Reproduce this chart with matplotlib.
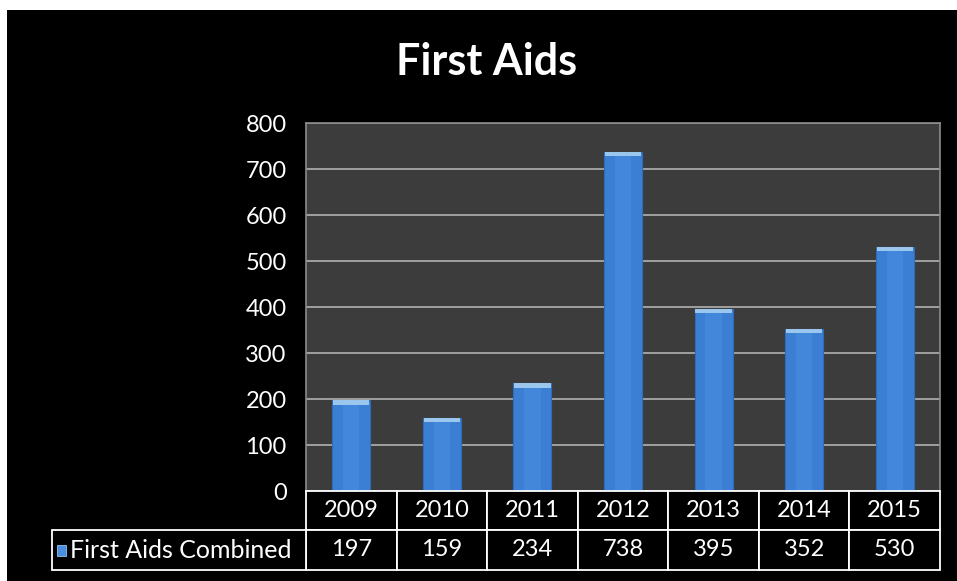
import matplotlib
matplotlib.use("Agg")
import matplotlib.pyplot as plt
from matplotlib.patches import Rectangle

years = ["2009", "2010", "2011", "2012", "2013", "2014", "2015"]
values = [197, 159, 234, 738, 395, 352, 530]
series_name = "First Aids Combined"
title = "First Aids"
yticks = [0, 100, 200, 300, 400, 500, 600, 700, 800]

FONT = ["Lato", "DejaVu Sans"]
plt.rcParams["font.family"] = FONT

W, H = 957, 581
fig = plt.figure(figsize=(W / 100, H / 100), dpi=100, facecolor="white")

# black slide background
fig.patches.append(Rectangle((7 / W, 0), 1 - 7 / W, 1 - 10 / H,
                             transform=fig.transFigure, facecolor="black",
                             edgecolor="none", zorder=-10))

left, right, top, bottom = 306, 940, 123, 491
ax = fig.add_axes([left / W, 1 - bottom / H, (right - left) / W, (bottom - top) / H])
ax.set_facecolor("#3c3c3c")
n = len(years)
x = list(range(n))
ax.bar(x, values, width=0.42, color="#3b7fd4", edgecolor="#2f6cb8", linewidth=0.8, zorder=3)
# slightly lighter centre band for a cylinder look
ax.bar(x, values, width=0.18, color="#4a8de0", edgecolor="none", zorder=3.5, alpha=0.6)
# light top cap on each bar
ax.bar(x, [9] * n, bottom=[v - 9 for v in values], width=0.40,
       color="#a6cff2", edgecolor="none", zorder=4, alpha=0.9)

ax.set_xlim(-0.5, n - 0.5)
ax.set_ylim(0, 800)
ax.set_yticks(yticks)
ax.set_yticklabels([str(t) for t in yticks], color="white", fontsize=17)
ax.tick_params(axis="y", length=0, pad=14)
ax.set_xticks([])
ax.grid(axis="y", color="#a8a8a8", linewidth=1.3, zorder=1)
for s in ax.spines.values():
    s.set_color("#8c8c8c")
    s.set_linewidth(1.2)

# data table (drawn manually, axes coordinates)
axw = right - left
axh = bottom - top
row1 = (530 - bottom) / axh
row2 = (570 - 530) / axh
rl_w = (left - 52) / axw
cw = 1 / n
tr = ax.transAxes

def cell(x0, y0, w, h):
    ax.add_patch(Rectangle((x0, y0), w, h, transform=tr, facecolor="black",
                           edgecolor="white", linewidth=1.3, clip_on=False, zorder=5))

for i, (yr, v) in enumerate(zip(years, values)):
    cell(i * cw, -row1, cw, row1)
    cell(i * cw, -row1 - row2, cw, row2)
    ax.text((i + 0.5) * cw, -row1 / 2, yr, transform=tr, ha="center", va="center",
            color="white", fontsize=17, zorder=6)
    ax.text((i + 0.5) * cw, -row1 - row2 / 2, str(v), transform=tr, ha="center",
            va="center", color="white", fontsize=17, zorder=6)
cell(-rl_w, -row1 - row2, rl_w, row2)
ax.text(-rl_w + 18 / axw, -row1 - row2 / 2, series_name, transform=tr, ha="left",
        va="center", color="white", fontsize=18, zorder=6)
# legend key square
ax.add_patch(Rectangle((-rl_w + 5 / axw, -row1 - row2 / 2 - 5.5 / axh), 9 / axw, 11 / axh,
                       transform=tr, facecolor="#4a8ee0", edgecolor="#8fc0f0",
                       linewidth=0.6, clip_on=False, zorder=10))

fig.text(487 / W, 1 - 62 / H, title, ha="center", va="center", color="white",
         fontsize=31, fontweight="bold")

fig.savefig("out.png", dpi=100, facecolor="white")
